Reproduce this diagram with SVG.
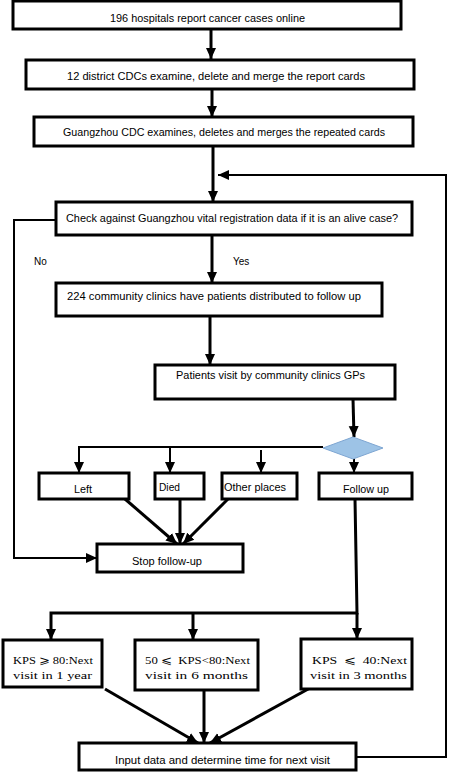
<svg xmlns="http://www.w3.org/2000/svg" width="451" height="773" viewBox="0 0 451 773">
<style>
.box{fill:#fff;stroke:#000;stroke-width:3}
.t{font-family:"Liberation Sans",Arial,sans-serif;font-size:10px;fill:#000}
.s{font-family:"Liberation Serif","DejaVu Serif",serif;font-size:10.5px;fill:#000;white-space:pre}
.c{fill:none;stroke:#000;stroke-width:3}
.c2{fill:none;stroke:#000;stroke-width:2}
</style>
<defs>
<marker id="ah" markerUnits="userSpaceOnUse" markerWidth="12" markerHeight="12" viewBox="0 0 12 12" refX="11" refY="6" orient="auto">
<path d="M0,1 L11,6 L0,11 Z" fill="#000"/>
</marker>
</defs>
<rect width="451" height="773" fill="#fff"/>
<g id="connectors">
<line class="c" x1="211" y1="29" x2="211" y2="59" marker-end="url(#ah)"/>
<line class="c" x1="212" y1="89" x2="212" y2="117" marker-end="url(#ah)"/>
<line class="c" x1="213" y1="146" x2="213" y2="202" marker-end="url(#ah)"/>
<polyline class="c2" points="356,757 446,757 446,175 218,175" marker-end="url(#ah)"/>
<polyline class="c2" points="56,220 14,220 14,558 97,558" marker-end="url(#ah)"/>
<line class="c" x1="212" y1="235" x2="212" y2="283" marker-end="url(#ah)"/>
<line class="c" x1="210" y1="316" x2="210" y2="365" marker-end="url(#ah)"/>
<line class="c" x1="353" y1="399" x2="354" y2="437" marker-end="url(#ah)"/>
<polyline class="c2" points="323,447 79,447 79,473" marker-end="url(#ah)"/>
<line class="c2" x1="170" y1="447" x2="170" y2="473" marker-end="url(#ah)"/>
<line class="c2" x1="261" y1="450" x2="261" y2="473" marker-end="url(#ah)"/>
<line class="c2" x1="354" y1="459" x2="354" y2="473" marker-end="url(#ah)"/>
<line class="c" x1="125" y1="499" x2="177" y2="544" marker-end="url(#ah)"/>
<line class="c" x1="180" y1="497" x2="180" y2="544" marker-end="url(#ah)"/>
<line class="c" x1="228" y1="499" x2="183" y2="544" marker-end="url(#ah)"/>
<polyline class="c" points="355,499 357,613 51,613 51,640" marker-end="url(#ah)"/>
<line class="c" x1="193" y1="613" x2="193" y2="640" marker-end="url(#ah)"/>
<line class="c" x1="357" y1="613" x2="357" y2="639" marker-end="url(#ah)"/>
<line class="c" x1="105" y1="689" x2="198" y2="743" marker-end="url(#ah)"/>
<line class="c" x1="204" y1="690" x2="204" y2="743" marker-end="url(#ah)"/>
<line class="c" x1="310" y1="688" x2="210" y2="743" marker-end="url(#ah)"/>
</g>
<g id="n1"><rect class="box" x="13" y="1" width="388" height="28"/><text class="t" x="110" y="22" textLength="195" lengthAdjust="spacingAndGlyphs">196 hospitals report cancer cases online</text></g>
<g id="n2"><rect class="box" x="26" y="60" width="388" height="29"/><text class="t" x="67" y="80" textLength="298" lengthAdjust="spacingAndGlyphs">12 district CDCs examine, delete and merge the report cards</text></g>
<g id="n3"><rect class="box" x="34" y="117" width="379" height="29"/><text class="t" x="63" y="136" textLength="322" lengthAdjust="spacingAndGlyphs">Guangzhou CDC examines, deletes and merges the repeated cards</text></g>
<g id="n4"><rect class="box" x="56" y="202" width="356" height="33"/><text class="t" x="66" y="222" textLength="332" lengthAdjust="spacingAndGlyphs">Check against Guangzhou vital registration data if it is an alive case?</text></g>
<g id="lbl-no"><text class="t" x="34" y="265">No</text></g>
<g id="lbl-yes"><text class="t" x="233" y="265">Yes</text></g>
<g id="n5"><rect class="box" x="56" y="283" width="326" height="33"/><text class="t" x="67" y="300" textLength="294" lengthAdjust="spacingAndGlyphs">224 community clinics have patients distributed to follow up</text></g>
<g id="n6"><rect class="box" x="155" y="365" width="240" height="34"/><text class="t" x="176" y="379" textLength="189" lengthAdjust="spacingAndGlyphs">Patients visit by community clinics GPs</text></g>
<g id="decision"><polygon points="323,448 353,437 383,448 353,459" fill="#9dc3e6" stroke="#7ea6d2" stroke-width="1"/></g>
<g id="left"><rect class="box" x="39" y="473" width="90" height="26"/><text class="t" x="74" y="493" textLength="18" lengthAdjust="spacingAndGlyphs">Left</text></g>
<g id="died"><rect class="box" x="155" y="473" width="49" height="26"/><text class="t" x="159" y="491" textLength="21" lengthAdjust="spacingAndGlyphs">Died</text></g>
<g id="other"><rect class="box" x="222" y="473" width="75" height="26"/><text class="t" x="224" y="491" textLength="62" lengthAdjust="spacingAndGlyphs">Other places</text></g>
<g id="followup"><rect class="box" x="319" y="473" width="93" height="26"/><text class="t" x="343" y="493" textLength="46" lengthAdjust="spacingAndGlyphs">Follow up</text></g>
<g id="stop"><rect class="box" x="97" y="544" width="146" height="28"/><text class="t" x="132" y="565" textLength="70" lengthAdjust="spacingAndGlyphs">Stop follow-up</text></g>
<g id="kps1"><rect class="box" x="3" y="640" width="99" height="47"/><text class="s" x="13" y="664" textLength="80" lengthAdjust="spacingAndGlyphs">KPS ⩾ 80:Next</text><text class="s" x="13" y="679" textLength="79" lengthAdjust="spacingAndGlyphs">visit in 1 year</text></g>
<g id="kps2"><rect class="box" x="135" y="640" width="123" height="50"/><text class="s" x="145" y="664" textLength="105" lengthAdjust="spacingAndGlyphs">50 ⩽  KPS&lt;80:Next</text><text class="s" x="145" y="679" textLength="103" lengthAdjust="spacingAndGlyphs">visit in 6 months</text></g>
<g id="kps3"><rect class="box" x="301" y="639" width="111" height="50"/><text class="s" x="312" y="664" textLength="95" lengthAdjust="spacingAndGlyphs">KPS  ⩽  40:Next</text><text class="s" x="310" y="679" textLength="97" lengthAdjust="spacingAndGlyphs">visit in 3 months</text></g>
<g id="final"><rect class="box" x="79" y="743" width="277" height="27"/><text class="t" x="115" y="764" textLength="215" lengthAdjust="spacingAndGlyphs">Input data and determine time for next visit</text></g>
</svg>
